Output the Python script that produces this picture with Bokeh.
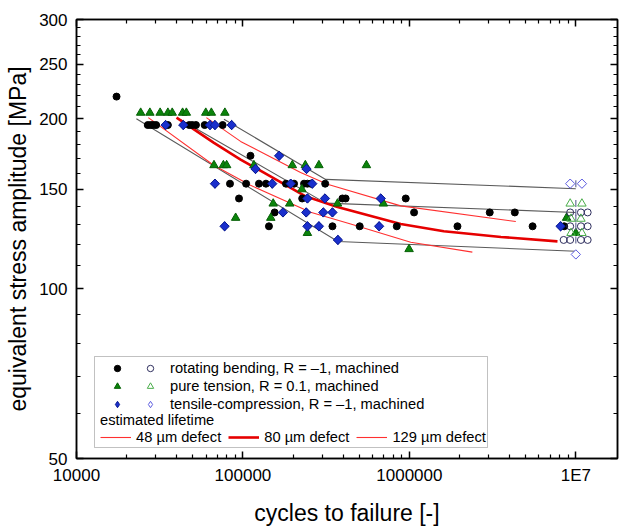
import math
from bokeh.plotting import figure
from bokeh.models import (Range1d, LogAxis, FixedTicker, CustomJSTickFormatter,
                          Legend, LegendItem, BoxAnnotation)
from bokeh.embed import file_html
from bokeh.resources import INLINE

# ---------------- data ----------------
# rotating bending, R = -1, machined : failures
rb_N = [17400,
        26800, 27900, 28900, 30100, 35400, 47600, 49600, 52200, 58900, 75500,
        111000,
        83600, 104500, 124800, 137500, 181400, 202800, 232900, 243900, 255300, 312000,
        94700, 227000, 396000, 414000, 951000,
        155000, 1067000, 3040000, 4300000,
        143300, 345000, 503000, 840000, 1945000, 5500000, 8510000]
rb_S = [219,
        195, 195, 195, 195, 195, 195, 195, 195, 195, 195,
        172,
        153.5, 153.5, 153.5, 153.5, 153.5, 153.5, 153.5, 153.5, 153.5, 153.5,
        144.5, 144.5, 144.5, 144.5, 144.5,
        136.5, 136.5, 136.5, 136.5,
        129, 129, 129, 129, 129, 129, 129]
# rotating bending run-outs
rb_run_N = [9.25e6, 1.073e7, 1.178e7, 9.25e6, 1.073e7, 1.178e7, 8.45e6, 9.25e6, 1.073e7, 1.178e7]
rb_run_S = [136.5, 136.5, 136.5, 129, 129, 129, 122, 122, 122, 122]

# pure tension, R = 0.1, machined : failures
pt_N = [24300, 27600, 31800, 35400, 37600, 43400, 45700, 59800, 64600, 77900,
        67000, 76300, 79800, 116400, 198000, 237000, 286000, 552000,
        226000,
        152000, 191000, 370000, 698000,
        90400, 147000, 8.8e6,
        244000, 1.0e7,
        996000]
pt_S = [205, 205, 205, 205, 205, 205, 205, 205, 205, 205,
        165.5, 165.5, 165.5, 165.5, 165.5, 165.5, 165.5, 165.5,
        150,
        141.5, 141.5, 141.5, 141.5,
        133.5, 133.5, 133.5,
        125.5, 125.5,
        117.5]
pt_run_N = [9.25e6, 1.088e7, 9.36e6, 1.073e7, 9.36e6, 1.088e7]
pt_run_S = [141.5, 141.5, 133, 133, 125.5, 125.5]

# tensile-compression, R = -1, machined : failures
tc_N = [34300, 43800, 63400, 67900, 85500,
        165000,
        119000, 241000,
        67900, 150000, 193600, 261000,
        244000, 311000, 673000,
        174000, 240000, 304000, 345000,
        77600, 244000, 286000, 658000, 8.1e6,
        372000]
tc_S = [195, 195, 195, 195, 195,
        172,
        163, 163,
        153.5, 153.5, 153.5, 153.5,
        144.5, 144.5, 144.5,
        136.5, 136.5, 136.5, 136.5,
        129, 129, 129, 129, 129,
        122]
tc_run_N = [9.25e6, 1.088e7, 1.0e7]
tc_run_S = [153.5, 153.5, 115]

# run-out marks at 1E7
mark_N = [1.0e7, 1.0e7, 1.0e7, 1.0e7, 1.0e7, 1.0e7]
mark_S = [153.5, 141.5, 136.5, 133, 129, 122]

# scatter-band (grey) lines
band_hi_N = [76900, 314000, 1.0e7]
band_hi_S = [199.7, 156.2, 150.4]
band_mid_N = [42200, 314000, 1.0e7]
band_mid_S = [199.3, 141.8, 136.5]
band_lo_N = [22900, 372000, 1.0e7]
band_lo_S = [200, 121.2, 116.5]

# estimated lifetime curves
d48_N = [60300, 96800, 222000, 322000, 887000, 4360000]
d48_S = [201, 182.4, 160.6, 153.1, 140.2, 131.5]
d80_N = [39900, 67000, 96800, 238000, 369600, 887000, 1610000, 3550000, 7760000]
d80_S = [201, 181.3, 169.4, 145.8, 139.5, 130.2, 126.4, 123.5, 121.3]
d129_N = [27000, 66700, 111000, 255000, 444000, 1019000, 2390000]
d129_S = [201, 165.5, 152.5, 136.6, 130.2, 120.9, 116.1]

# ticks
x_tick_values = [1e4, 1e5, 1e6, 1e7]
x_tick_labels = ["10000", "100000", "1000000", "1E7"]
x_minor = [2e4, 3e4, 4e4, 5e4, 6e4, 7e4, 8e4, 9e4,
           2e5, 3e5, 4e5, 5e5, 6e5, 7e5, 8e5, 9e5,
           2e6, 3e6, 4e6, 5e6, 6e6, 7e6, 8e6, 9e6]
y_tick_values = [50, 100, 150, 200, 250, 300]
y_tick_labels = ["50", "100", "150", "200", "250", "300"]
y_minor = [60, 70, 80, 90, 110, 120, 130, 140, 160, 170, 180, 190,
           210, 220, 230, 240, 260, 270, 280, 290]

FONT = "Liberation Sans"

# ---------------- figure ----------------
p = figure(width=623, height=528, x_axis_type="log", y_axis_type="log",
           x_range=Range1d(1e4, 1.78e7), y_range=Range1d(50, 300),
           output_backend="svg", toolbar_location=None,
           min_border_left=76, min_border_right=6, min_border_top=19, min_border_bottom=67)
p.grid.visible = False
p.background_fill_color = "white"
p.border_fill_color = "white"
p.outline_line_color = "black"
p.outline_line_width = 1.5

fmt_code = """
for (let i = 0; i < vals.length; i++) {
  if (Math.abs(tick - vals[i]) < 1e-6 * vals[i]) return labs[i];
}
return '';
"""
x_fmt = CustomJSTickFormatter(args=dict(vals=x_tick_values, labs=x_tick_labels), code=fmt_code)
y_fmt = CustomJSTickFormatter(args=dict(vals=y_tick_values, labs=y_tick_labels), code=fmt_code)
blank_fmt = CustomJSTickFormatter(code="return '';")


def style_axis(ax):
    ax.axis_line_width = 1.5
    ax.major_tick_in = 7
    ax.major_tick_out = 0
    ax.minor_tick_in = 4
    ax.minor_tick_out = 0
    ax.major_tick_line_width = 1.5
    ax.minor_tick_line_width = 1.2
    ax.major_label_text_font = FONT
    ax.major_label_text_font_size = "17px"
    ax.major_label_text_color = "black"
    ax.axis_label_text_font = FONT
    ax.axis_label_text_font_size = "23px"
    ax.axis_label_text_font_style = "normal"
    ax.axis_label_text_color = "black"


xa = p.xaxis[0]
xa.ticker = FixedTicker(ticks=x_tick_values, minor_ticks=x_minor)
xa.formatter = x_fmt
style_axis(xa)
xa.major_label_standoff = 7
xa.axis_label = "cycles to failure [-]"
xa.axis_label_standoff = 12

ya = p.yaxis[0]
ya.ticker = FixedTicker(ticks=y_tick_values, minor_ticks=y_minor)
ya.formatter = y_fmt
style_axis(ya)
ya.major_label_standoff = 9
ya.axis_label = "equivalent stress amplitude [MPa]"
ya.axis_label_standoff = 5

top = LogAxis(ticker=FixedTicker(ticks=x_tick_values, minor_ticks=x_minor), formatter=blank_fmt)
style_axis(top)
top.major_label_text_font_size = "0px"
top.major_label_standoff = 0
p.add_layout(top, "above")

right = LogAxis(ticker=FixedTicker(ticks=y_tick_values, minor_ticks=y_minor), formatter=blank_fmt)
style_axis(right)
right.major_label_text_font_size = "0px"
right.major_label_standoff = 0
p.add_layout(right, "right")

# ---------------- lines ----------------
GREY = "#5a5a5a"
for nn, ss in [(band_hi_N, band_hi_S), (band_mid_N, band_mid_S), (band_lo_N, band_lo_S)]:
    p.line(nn, ss, line_color=GREY, line_width=1.1)

THIN_RED = "#ff3030"
r48 = p.line(d48_N, d48_S, line_color=THIN_RED, line_width=1.1)
r80 = p.line(d80_N, d80_S, line_color="#e60000", line_width=2.6)
r129 = p.line(d129_N, d129_S, line_color=THIN_RED, line_width=1.1)

# ---------------- markers ----------------
GREEN = "#0b840b"
BLUE = "#1a2fcc"
DIAM = math.pi / 4
rb_f = p.scatter(rb_N, rb_S, marker="circle", size=7, fill_color="black", line_color="black")
pt_f = p.scatter(pt_N, pt_S, marker="triangle", size=8.5, fill_color=GREEN, line_color="#066006")
# diamond renderer (used by the legend), covered by the wider rotated squares
tc_f = p.scatter(tc_N, tc_S, marker="diamond", size=9, fill_color=BLUE, line_color="#0a1a90")
p.scatter(tc_N, tc_S, marker="square", angle=DIAM, size=6.6, fill_color=BLUE, line_color="#0a1a90")

p.scatter(mark_N, mark_S, marker="dash", angle=math.pi / 2, size=7, line_color="#6a6f9a", line_width=1.2)
rb_o = p.scatter(rb_run_N, rb_run_S, marker="circle", size=7, fill_color=None,
                 line_color="#2e2e5e", line_width=1)
pt_o = p.scatter(pt_run_N, pt_run_S, marker="triangle", size=8.5, fill_color=None,
                 line_color="#4aad4a", line_width=1)
tc_o = p.scatter(tc_run_N, tc_run_S, marker="diamond", size=8, fill_color=None,
                 line_color="#5d5de0", line_width=1)
p.scatter(tc_run_N, tc_run_S, marker="square", angle=DIAM, size=6.6, fill_color="white",
          line_color="#5d5de0", line_width=1)

# ---------------- legend ----------------
box = BoxAnnotation(left=94, right=487, top=356, bottom=447,
                    left_units="canvas", right_units="canvas",
                    top_units="canvas", bottom_units="canvas",
                    fill_color="white", fill_alpha=1.0, line_color="#333333", line_width=1)
p.add_layout(box)

common = dict(padding=0, margin=0, spacing=0, border_line_alpha=0, background_fill_alpha=0,
              label_text_font=FONT, label_text_font_size="14.7px", label_text_color="black",
              glyph_height=18, label_height=18)

leg_filled = Legend(items=[LegendItem(label=" ", renderers=[rb_f]),
                           LegendItem(label=" ", renderers=[pt_f]),
                           LegendItem(label=" ", renderers=[tc_f])],
                    location=(32.7, 45.5), glyph_width=16, label_width=0, label_standoff=0, **common)
leg_open = Legend(items=[LegendItem(label="rotating bending, R = \u20131, machined", renderers=[rb_o]),
                         LegendItem(label="pure tension, R = 0.1, machined", renderers=[pt_o]),
                         LegendItem(label="tensile-compression, R = \u20131, machined", renderers=[tc_o])],
                  location=(66, 45.5), glyph_width=16, label_standoff=12, **common)
common_l = dict(common)
common_l["spacing"] = 7
leg_lines = Legend(items=[LegendItem(label="48 \u00b5m defect", renderers=[r48]),
                          LegendItem(label="80 \u00b5m defect", renderers=[r80]),
                          LegendItem(label="129 \u00b5m defect", renderers=[r129])],
                   orientation="horizontal", title="estimated lifetime",
                   title_text_font=FONT, title_text_font_size="14.7px",
                   title_text_font_style="normal", title_text_color="black", title_standoff=-4,
                   location=(24, 12.3), glyph_width=31, label_standoff=5, **common_l)
p.add_layout(leg_filled)
p.add_layout(leg_open)
p.add_layout(leg_lines)

open("out.html", "w").write(file_html(p, INLINE))
